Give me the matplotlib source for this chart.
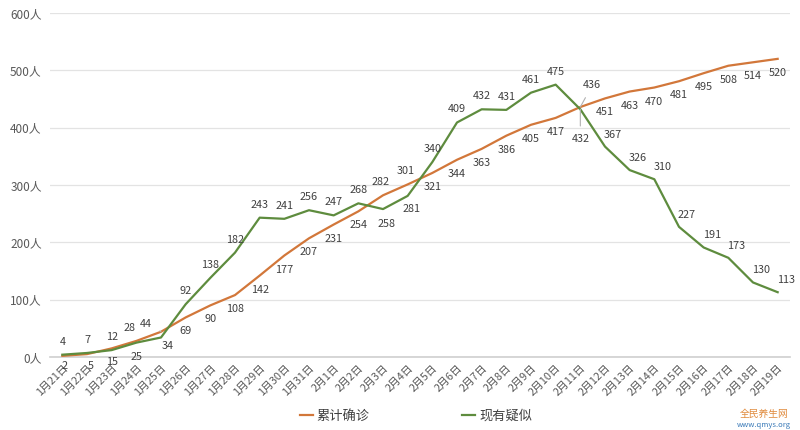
import matplotlib
matplotlib.use('Agg')
import matplotlib.pyplot as plt

plt.rcParams['font.family'] = ['Noto Sans CJK SC', 'DejaVu Sans']

dates = ['1月%d日' % d for d in range(21, 32)] + ['2月%d日' % d for d in range(1, 20)]
confirmed = [2, 5, 15, 28, 44, 69, 90, 108, 142, 177, 207, 231, 254, 282, 301,
             321, 344, 363, 386, 405, 417, 436, 451, 463, 470, 481, 495, 508, 514, 520]
suspected = [4, 7, 12, 25, 34, 92, 138, 182, 243, 241, 256, 247, 268, 258, 281,
             340, 409, 432, 431, 461, 475, 432, 367, 326, 310, 227, 191, 173, 130, 113]
yticks = [0, 100, 200, 300, 400, 500, 600]

c_orange = '#d2773a'
c_green = '#5e8c3e'
txt = '#404040'

fig = plt.figure(figsize=(8, 4.3), dpi=100)
ax = fig.add_axes([0.0625, 0.1698, 0.925, 0.80])
x = list(range(len(dates)))

ax.plot(x, confirmed, color=c_orange, lw=1.6, label='累计确诊', zorder=3)
ax.plot(x, suspected, color=c_green, lw=1.6, label='现有疑似', zorder=3)

ax.set_xlim(-0.5, len(dates) - 0.5)
ax.set_ylim(0, 600)
ax.set_yticks(yticks)
ax.set_yticklabels(['%d人' % v for v in yticks], fontsize=8.5, color='#595959')
ax.set_xticks(x)
ax.set_xticklabels(dates, rotation=45, ha='right', rotation_mode='anchor',
                   fontsize=7.8, color='#595959')
ax.tick_params(length=0, pad=6)
ax.tick_params(axis='x', pad=4)
ax.grid(axis='y', color='#e3e3e3', lw=0.9)
ax.set_axisbelow(True)
for s in ['top', 'right', 'left']:
    ax.spines[s].set_visible(False)
ax.spines['bottom'].set_color('#cfcfcf')
ax.spines['bottom'].set_linewidth(1.2)

# label offsets in pixels (dx, dy)
def lab(i, v, dx, dy, leader=False):
    kw = {}
    if leader:
        kw['arrowprops'] = dict(arrowstyle='-', color='#b0b0b0', lw=0.8,
                                shrinkA=4, shrinkB=0)
    ax.annotate(str(v), (i, v), xytext=(dx, dy), textcoords='offset pixels',
                ha='center', va='center', fontsize=7.8, color=txt, zorder=4, **kw)

for i, v in enumerate(confirmed):
    dx, dy, ld = 0, -14, False
    if i == 0:
        dx, dy = 2, -10
    if i == 1:
        dx, dy = 4, -12
    if i == 3:
        dx, dy = -7, 13
    if i == 4:
        dx, dy, ld = -15, 8, True
    if i in (13, 14):
        dx, dy = -2, 13
    if i == 21:
        dx, dy, ld = 12, 22, True
    lab(i, v, dx, dy, ld)

for i, v in enumerate(suspected):
    dx, dy, ld = 0, 13, False
    if i == 3:
        dx, dy = 0, -14
    if i == 4:
        dx, dy = 7, -9
    if i == 13:
        dx, dy = 4, -15
    if i == 14:
        dx, dy = 4, -13
    if i == 21:
        dx, dy, ld = 0, -30, True
    if i >= 22:
        dx, dy = 8, 12
    lab(i, v, dx, dy, ld)

leg = fig.legend(loc='lower center', bbox_to_anchor=(0.52, -0.01), ncol=2,
                 frameon=False, fontsize=9.5, handlelength=1.0, handletextpad=0.3,
                 columnspacing=7)
for t in leg.get_texts():
    t.set_color(txt)

fig.text(0.955, 0.03, '全民养生网', color='#e08a3c', fontsize=7, ha='center')
fig.text(0.955, 0.008, 'www.qmys.org', color='#3a7ab8', fontsize=5.5, ha='center')

fig.savefig('out.png', dpi=100)
